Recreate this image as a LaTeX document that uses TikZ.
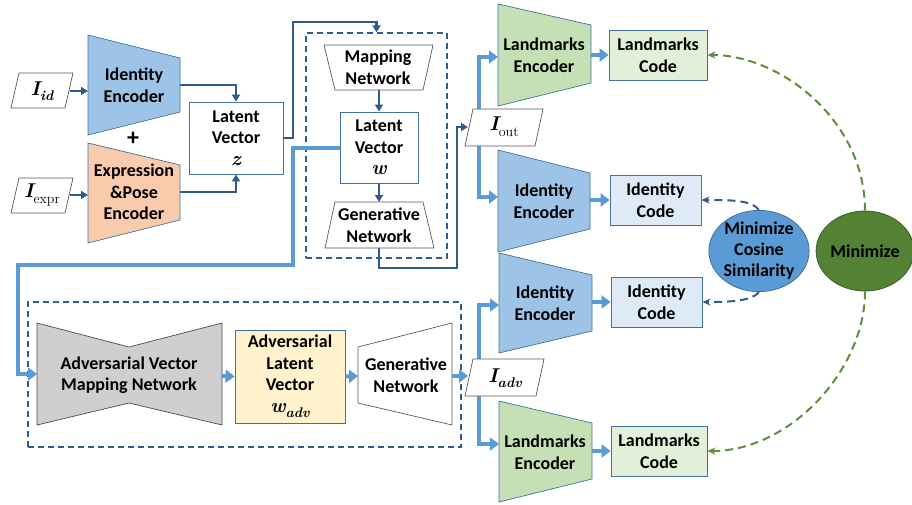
\documentclass[tikz,border=0pt]{standalone}
\usepackage{fontspec}
\setmainfont{Carlito}
\newfontfamily\lmr{Latin Modern Roman}
\usetikzlibrary{arrows.meta,shapes.geometric}
\definecolor{dk}{HTML}{2F5C8F}
\definecolor{lb}{HTML}{5B9BD5}
\definecolor{bdr}{HTML}{41719C}
\definecolor{idfill}{HTML}{9DC3E6}
\definecolor{exfill}{HTML}{F8CBAD}
\definecolor{lmfill}{HTML}{C5E0B4}
\definecolor{lmcode}{HTML}{E2F0D9}
\definecolor{idcode}{HTML}{DEEBF7}
\definecolor{advfill}{HTML}{FFF2CC}
\definecolor{grayfill}{HTML}{D0CECE}
\definecolor{grn}{HTML}{548235}
\definecolor{grnbdr}{HTML}{3B5E24}
\definecolor{gdash}{HTML}{5E8F3A}
\newcommand\mysub[1]{\raisebox{-0.28em}{\fontsize{14}{14}\selectfont #1}}
\newcommand\bi[1]{{\lmr\bfseries\itshape #1}}
\newcommand\up[1]{{\lmr\mdseries\upshape #1}}
\tikzset{
  lbl/.style={font=\bfseries\fontsize{18}{21.5}\selectfont, align=center, inner sep=0pt},
  mth/.style={font=\fontsize{20}{21}\selectfont, inner sep=0pt},
  shp/.style={draw=bdr, line width=0.7pt},
  gshp/.style={draw=gray!70!black, line width=0.7pt, fill=white},
  box/.style={draw=bdr, line width=0.8pt, inner sep=0pt, align=center, font=\bfseries\fontsize{18}{21.5}\selectfont},
  dkarrow/.style={draw=dk, line width=2.2pt, -{Triangle[length=7pt,width=8pt]}},
  lbarrow/.style={draw=lb, line width=4pt, -{Triangle[length=9pt,width=13pt]}},
  dbox/.style={draw=dk, dash pattern=on 6pt off 4pt, line width=1.3pt, inner sep=0pt},
  dkdash/.style={draw=dk, line width=2pt, dash pattern=on 8pt off 5pt, -{Stealth[length=8pt,width=7pt]}},
  grdash/.style={draw=gdash, line width=2pt, dash pattern=on 8pt off 5pt, -{Stealth[length=8pt,width=7pt]}},
}
\begin{document}
\begin{tikzpicture}[x=1pt,y=-1pt]
\useasboundingbox (0,0) rectangle (912,504);

% ---------------- left inputs
\draw[gshp] (11,108) -- (19,73) -- (73,73) -- (65,108) -- cycle;
\node[mth] (iid) at (42,91) {\bi{I}\mysub{\bi{id}}};
\draw[gshp] (11,213) -- (19,178) -- (73,178) -- (65,213) -- cycle;
\node[mth] (iexpr) at (42,195) {\bi{I}\mysub{\up{expr}}};
\coordinate (iidR) at (70,91);
\coordinate (iexprR) at (70,195);

% encoders
\draw[shp, fill=idfill] (88,35) -- (180,58) -- (180,112) -- (88,135) -- cycle;
\node[lbl] (idenc1) at (134,85) {Identity\\Encoder};
\draw[shp, fill=exfill] (88,143) -- (180,165) -- (180,220) -- (88,243) -- cycle;
\node[lbl] (exenc) at (134,192) {Expression\\\&Pose\\Encoder};
\node[font=\bfseries\fontsize{24}{24}\selectfont, inner sep=0pt] (plus) at (133,139) {+};
\coordinate (idenc1L) at (88,91);
\coordinate (exencL) at (88,195);
\coordinate (idenc1R) at (180,85);
\coordinate (exencR) at (180,192);

\draw[dkarrow] (iidR) -- (idenc1L);
\draw[dkarrow] (iexprR) -- (exencL);

% latent z
\node[box, fill=white, minimum width=94pt, minimum height=72pt] (lz) at (236,138) {Latent\\Vector\\{\fontsize{20}{21}\selectfont\bi{z}}};
\draw[dkarrow] (idenc1R) -| (lz.north);
\draw[dkarrow] (exencR) -| (lz.south);

% ---------------- StyleGAN group
\node[dbox, minimum width=141pt, minimum height=225pt] (g1) at (376.5,145.5) {};
\coordinate (j1) at (293,22);
\draw[dkarrow] (lz.east) -| (j1) -| (g1.north);

\draw[gshp] (324,45) -- (433,45) -- (423,90) -- (335,90) -- cycle;
\node[lbl] (mapn) at (378,67) {Mapping\\Network};
\coordinate (mapbot) at (379,90);
\node[box, fill=white, minimum width=78pt, minimum height=71pt] (lw) at (379,147.5) {Latent\\Vector\\{\fontsize{20}{21}\selectfont\bi{w}}};
\draw[dkarrow] (mapbot) -- (lw.north);
\draw[gshp] (335,202) -- (423,202) -- (434,248) -- (325,248) -- cycle;
\node[lbl] (gen1) at (379,225) {Generative\\Network};
\coordinate (gen1top) at (379,202);
\coordinate (gen1bot) at (379,248);
\draw[dkarrow] (lw.south) -- (gen1top);

% output of generator to I_out
\coordinate (j2) at (457,268);
\coordinate (ioutL) at (468,127);
\draw[dkarrow] (gen1bot) |- (j2) |- (ioutL);

% ---------------- adversarial group
\node[dbox, minimum width=433pt, minimum height=145pt] (g2) at (244.5,374.5) {};
\draw[draw=gray!60!black, line width=0.7pt, fill=grayfill] (37,323) -- (129,347) -- (222,323) -- (222,425) -- (129,403) -- (37,425) -- cycle;
\node[lbl] (avm) at (129,375) {Adversarial Vector\\Mapping Network};
\coordinate (avmL) at (37,374);
\coordinate (avmR) at (222,376);

% light blue path from latent w to adversarial mapping
\coordinate (j3) at (293,265);
\coordinate (j4) at (18,374);
\draw[lbarrow] (lw.west) -| (j3) -| (j4) -- (avmL);

\node[box, fill=advfill, minimum width=110pt, minimum height=93pt] (alv) at (290,376.5) {Adversarial\\Latent\\Vector\\{\fontsize{20}{21}\selectfont\bi{w}\mysub{\bi{adv}}}};
\draw[lbarrow] (avmR) -- (alv.west);
\draw[gshp] (358,347) -- (452,323) -- (452,425) -- (358,403) -- cycle;
\node[lbl] (gen2) at (406,375) {Generative\\Network};
\coordinate (gen2L) at (358,376);
\coordinate (gen2R) at (452,376);
\draw[lbarrow] (alv.east) -- (gen2L);
\coordinate (iadvL) at (468,376);
\draw[lbarrow] (gen2R) -- (iadvL);

% ---------------- right column
\draw[shp, fill=lmfill] (498,4) -- (591,25) -- (591,83) -- (498,106) -- cycle;
\node[lbl] (lmenc1) at (544,55) {Landmarks\\Encoder};
\draw[shp, fill=idfill] (498,150) -- (590,173) -- (590,229) -- (498,252) -- cycle;
\node[lbl] (idenc2) at (544,201) {Identity\\Encoder};
\draw[shp, fill=idfill] (499,253) -- (592,275) -- (592,331) -- (499,353) -- cycle;
\node[lbl] (idenc3) at (545,303) {Identity\\Encoder};
\draw[shp, fill=lmfill] (499,401) -- (592,423) -- (592,479) -- (499,502) -- cycle;
\node[lbl] (lmenc2) at (545,452) {Landmarks\\Encoder};

\coordinate (lmenc1L) at (498,57);
\coordinate (idenc2L) at (498,197);
\coordinate (idenc3L) at (499,305);
\coordinate (lmenc2L) at (499,444);
\coordinate (lmenc1R) at (591,55);
\coordinate (idenc2R) at (590,200);
\coordinate (idenc3R) at (592,302);
\coordinate (lmenc2R) at (592,451);

\coordinate (ioutC) at (479,127);
\coordinate (iadvC) at (479,378);
\draw[lbarrow] (ioutC) |- (lmenc1L);
\draw[lbarrow] (ioutC) |- (idenc2L);
\draw[lbarrow] (iadvC) |- (idenc3L);
\draw[lbarrow] (iadvC) |- (lmenc2L);

\draw[gshp] (465,146) -- (473,109) -- (543,109) -- (535,146) -- cycle;
\node[mth] (iout) at (504,127) {\bi{I}\mysub{\up{out}}};
\draw[gshp] (465,396) -- (473,359) -- (544,359) -- (536,396) -- cycle;
\node[mth] (iadv) at (505,378) {\bi{I}\mysub{\bi{adv}}};

\node[box, fill=lmcode, minimum width=98pt, minimum height=50pt] (lmcode1) at (658,55) {Landmarks\\Code};
\node[box, fill=idcode, minimum width=91pt, minimum height=50pt] (idcode1) at (655.5,200) {Identity\\Code};
\node[box, fill=idcode, minimum width=91pt, minimum height=50pt] (idcode2) at (656.5,302) {Identity\\Code};
\node[box, fill=lmcode, minimum width=96pt, minimum height=50pt] (lmcode2) at (659,451) {Landmarks\\Code};

\draw[lbarrow] (lmenc1R) -- (lmcode1.west);
\draw[lbarrow] (idenc2R) -- (idcode1.west);
\draw[lbarrow] (idenc3R) -- (idcode2.west);
\draw[lbarrow] (lmenc2R) -- (lmcode2.west);

% ellipses
\node[ellipse, draw=bdr, line width=0.8pt, fill=lb, minimum width=96pt, minimum height=80pt, inner sep=0pt, align=center, font=\bfseries\fontsize{18}{21}\selectfont] (cos) at (759,251) {Minimize\\Cosine\\Similarity};
\node[ellipse, draw=grnbdr, line width=0.8pt, fill=grn, minimum width=92pt, minimum height=80pt, inner sep=0pt, align=center, font=\bfseries\fontsize{18}{21}\selectfont] (mini) at (865,251) {Minimize};

% dashed loss connectors
\draw[dkdash] (cos.north) .. controls (752,200) and (730,200) .. (idcode1.east);
\draw[dkdash] (cos.south) .. controls (752,301) and (730,302) .. (idcode2.east);
\draw[grdash] (mini.north) .. controls (865,120) and (780,55) .. (lmcode1.east);
\draw[grdash] (mini.south) .. controls (865,370) and (790,451) .. (lmcode2.east);
\end{tikzpicture}
\end{document}
